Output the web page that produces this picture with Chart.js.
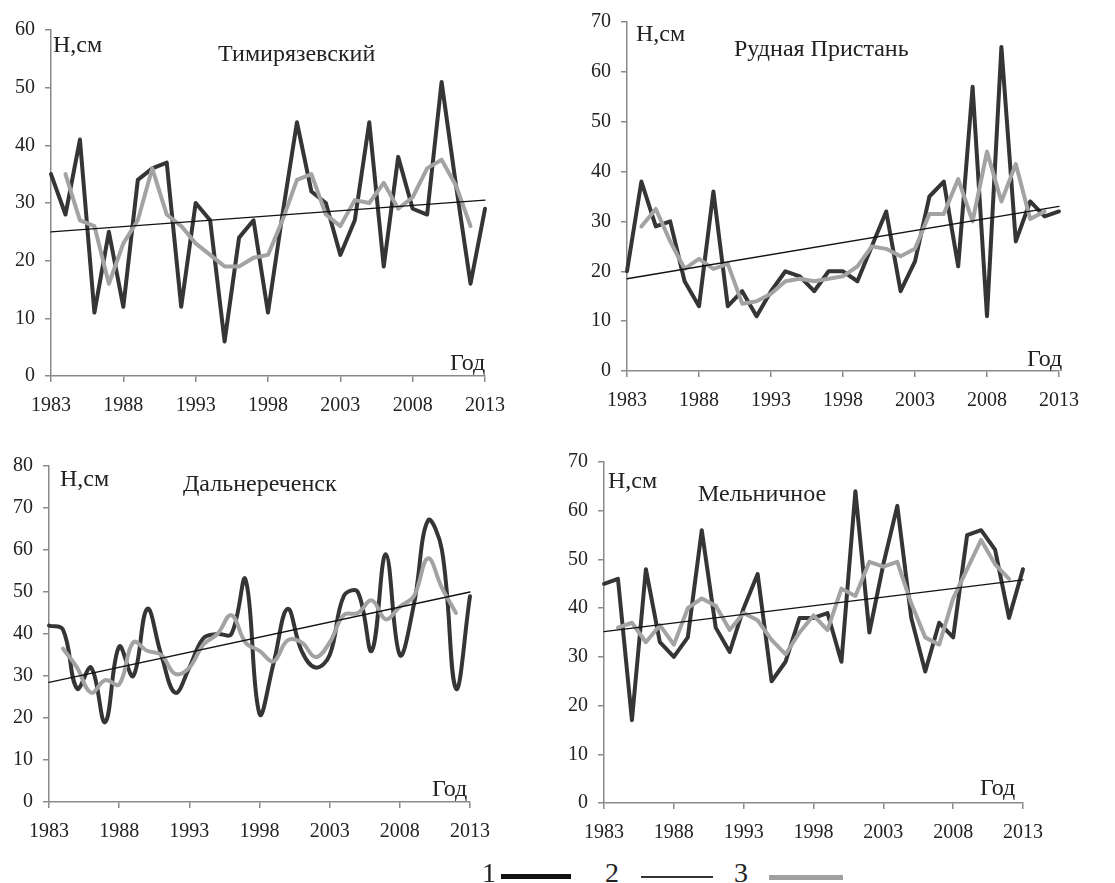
<!DOCTYPE html>
<html>
<head>
<meta charset="utf-8">
<script src="https://cdn.jsdelivr.net/npm/chart.js@4/dist/chart.umd.min.js"></script>
<style>
  body { margin: 0; background: #fff; font-family: "Liberation Serif", "Times New Roman", serif; color: #222; }
  #wrap { position: relative; width: 1115px; height: 883px; overflow: hidden; }
  .panel { position: absolute; }
  .lbl { position: absolute; font-size: 24px; line-height: 1; white-space: nowrap; }
  .leg { position: absolute; font-size: 28px; line-height: 1; }
  .seg { position: absolute; }
</style>
</head>
<body>
<div id="wrap">
  <div class="panel" style="left:0;top:0"><canvas id="c1" width="520" height="425"></canvas></div>
  <div class="panel" style="left:560px;top:0"><canvas id="c2" width="555" height="420"></canvas></div>
  <div class="panel" style="left:0;top:430px"><canvas id="c3" width="520" height="420"></canvas></div>
  <div class="panel" style="left:560px;top:430px"><canvas id="c4" width="555" height="420"></canvas></div>

  <span class="lbl" style="left:53px;top:32px">Н,см</span>
  <span class="lbl" style="left:218px;top:41px">Тимирязевский</span>
  <span class="lbl" style="left:450px;top:350px">Год</span>

  <span class="lbl" style="left:636px;top:21px">Н,см</span>
  <span class="lbl" style="left:734px;top:36px">Рудная Пристань</span>
  <span class="lbl" style="left:1027px;top:346px">Год</span>

  <span class="lbl" style="left:60px;top:466px">Н,см</span>
  <span class="lbl" style="left:183px;top:471px">Дальнереченск</span>
  <span class="lbl" style="left:432px;top:776px">Год</span>

  <span class="lbl" style="left:608px;top:468px">Н,см</span>
  <span class="lbl" style="left:698px;top:481px">Мельничное</span>
  <span class="lbl" style="left:980px;top:775px">Год</span>

  <span class="leg" style="left:482px;top:859px">1</span>
  <div class="seg" style="left:501px;top:874px;width:70px;height:5px;background:#111"></div>
  <span class="leg" style="left:605px;top:859px">2</span>
  <div class="seg" style="left:641px;top:876px;width:72px;height:2px;background:#333"></div>
  <span class="leg" style="left:734px;top:859px">3</span>
  <div class="seg" style="left:769px;top:875px;width:74px;height:5px;background:#a0a0a0"></div>
</div>
<script>
const years = [1983, 1984, 1985, 1986, 1987, 1988, 1989, 1990, 1991, 1992, 1993, 1994, 1995, 1996, 1997,
  1998, 1999, 2000, 2001, 2002, 2003, 2004, 2005, 2006, 2007, 2008, 2009, 2010, 2011, 2012, 2013];
const trendYears = [1983, 2013];

// Тимирязевский
const timObs = [35, 28, 41, 11, 25, 12, 34, 36, 37, 12, 30, 27, 6, 24, 27, 11, 28, 44, 32, 30, 21, 27, 44, 19, 38, 29, 28, 51, 33, 16, 29];
const timAvg = [null, 35, 27, 26, 16, 23, 27, 36, 28, 26, 23, 21, 19, 19, 20.5, 21, 27, 34, 35, 28, 26, 30.5, 30, 33.5, 29, 31, 36, 37.5, 33, 26, null];
const timTrend = [25, 30.5];

// Рудная Пристань
const rudObs = [20, 38, 29, 30, 18, 13, 36, 13, 16, 11, 16, 20, 19, 16, 20, 20, 18, 25, 32, 16, 22, 35, 38, 21, 57, 11, 65, 26, 34, 31, 32];
const rudAvg = [null, 29, 32.5, 26, 20.5, 22.5, 20.5, 21.5, 13.5, 14, 15.5, 18, 18.5, 18, 18.5, 19, 21, 25, 24.5, 23, 24.5, 31.5, 31.5, 38.5, 30, 44, 34, 41.5, 30.5, 32, null];
const rudTrend = [18.5, 33];

// Дальнереченск
const dalObs = [42, 41, 27, 32, 19, 37, 30, 46, 35, 26, 32, 39, 40, 40, 53, 21, 33, 46, 36, 32, 35, 49, 50, 36, 59, 35, 47, 67, 60, 27, 49];
const dalAvg = [null, 36.5, 32, 26, 29, 28, 38, 36, 35, 30.5, 32, 37.5, 40, 44.5, 38, 36, 33.5, 38.5, 38, 34.5, 38, 44.5, 45, 48, 43.5, 46.5, 49, 58, 51, 45, null];
const dalTrend = [28.5, 50];

// Мельничное
const melObs = [45, 46, 17, 48, 33, 30, 34, 56, 36, 31, 40, 47, 25, 29, 38, 38, 39, 29, 64, 35, 49, 61, 38, 27, 37, 34, 55, 56, 52, 38, 48];
const melAvg = [null, 36, 37, 33, 36.5, 32.5, 40, 42, 40.5, 35.5, 39, 37.5, 33.5, 30.5, 35, 38.5, 35.5, 44, 42.5, 49.5, 48.5, 49.5, 41, 34, 32.5, 42, 48, 54, 49, 46, null];
const melTrend = [35.2, 45.8];

const axisGray = '#8a8a8a';
const tickFont = { family: '"Liberation Serif", "Times New Roman", serif', size: 20 };

function pts(xs, ys) {
  return xs.map((x, i) => ({ x: x, y: ys[i] }));
}

function makePanel(id, obs, avg, trend, yMax, smooth, geo) {
  const ctx = document.getElementById(id).getContext('2d');
  const t = smooth ? 0.4 : 0;
  const lineStyle = { pointRadius: 0, borderJoinStyle: 'round', borderCapStyle: 'round', clip: false };
  new Chart(ctx, {
    type: 'line',
    data: {
      datasets: [
        { ...lineStyle, data: pts(years, obs), borderColor: '#353535', borderWidth: 4, tension: t, order: 3 },
        { ...lineStyle, data: pts(years, avg), borderColor: '#a3a3a3', borderWidth: 4, tension: t, order: 2 },
        { ...lineStyle, data: pts(trendYears, trend), borderColor: '#111', borderWidth: 1.3, order: 1 }
      ]
    },
    options: {
      responsive: false,
      animation: false,
      devicePixelRatio: 1,
      layout: { padding: { left: 0, right: geo.right, top: geo.top, bottom: 0 } },
      plugins: { legend: { display: false }, tooltip: { enabled: false } },
      scales: {
        x: {
          type: 'linear',
          min: 1983,
          max: 2013,
          ticks: { stepSize: 5, color: '#222', font: tickFont, padding: 12, maxRotation: 0, callback: v => String(v) },
          grid: { drawOnChartArea: false, tickLength: 6, color: axisGray, lineWidth: 1.5 },
          border: { color: axisGray, width: 1.5 },
          afterFit: s => { s.height = geo.xh; }
        },
        y: {
          min: 0,
          max: yMax,
          ticks: { stepSize: 10, color: '#222', font: tickFont, padding: 10 },
          grid: { drawOnChartArea: false, tickLength: 6, color: axisGray, lineWidth: 1.5 },
          border: { color: axisGray, width: 1.5 },
          afterFit: s => { s.width = geo.yw; }
        }
      }
    }
  });
}

makePanel('c1', timObs, timAvg, timTrend, 60, false, { yw: 51, right: 35, top: 30, xh: 49 });
makePanel('c2', rudObs, rudAvg, rudTrend, 70, false, { yw: 67, right: 56, top: 19, xh: 49 });
makePanel('c3', dalObs, dalAvg, dalTrend, 80, true, { yw: 49, right: 50, top: 36, xh: 48 });
makePanel('c4', melObs, melAvg, melTrend, 70, false, { yw: 44, right: 92, top: 32, xh: 47 });
</script>
</body>
</html>
